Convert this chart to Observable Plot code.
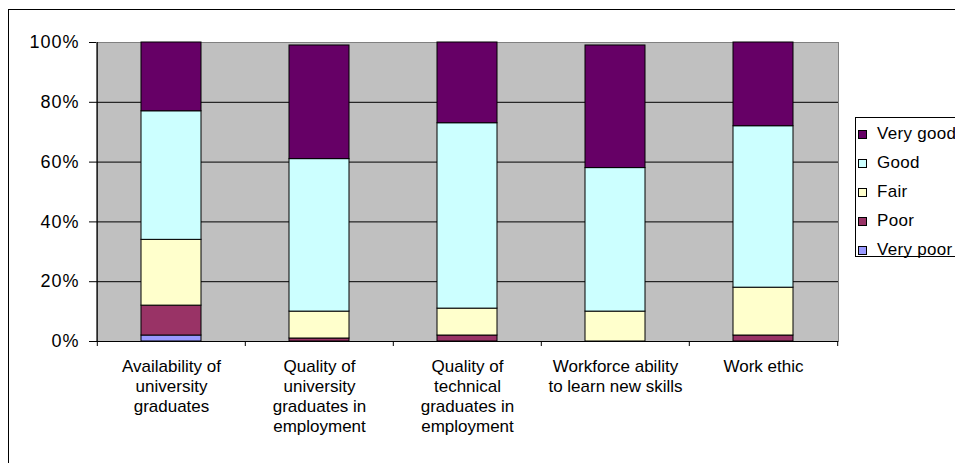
<!DOCTYPE html>
<html>
<head>
<meta charset="utf-8">
<script src="https://cdn.jsdelivr.net/npm/d3@7"></script>
<script src="https://cdn.jsdelivr.net/npm/@observablehq/plot@0.6"></script>
<style>
  body { margin: 0; background: #fff; font-family: "Liberation Sans", Arial, sans-serif; }
  #wrap { position: relative; width: 955px; height: 463px; overflow: hidden; background: #fff; }
  #border { position: absolute; left: 8px; top: 9px; width: 1200px; height: 1200px; border: 1px solid #000; box-sizing: border-box; pointer-events: none; }
  #legend { position: absolute; left: 855px; top: 117px; width: 200px; height: 140px; border: 1px solid #000; box-sizing: border-box; background: #fff; }
  .item { position: absolute; left: 0; height: 20px; font-size: 17px; line-height: 20px; white-space: nowrap; color: #000; letter-spacing: 0.3px; }
  .sw { position: absolute; left: 2px; top: 6px; width: 7px; height: 7px; border: 1px solid #000; }
  .lbl { position: absolute; left: 21px; top: 0; }
</style>
</head>
<body>
<div id="wrap"><div id="chart"></div><div id="legend"></div><div id="border"></div></div>
<script>
const categories = [
  "Availability of\nuniversity\ngraduates",
  "Quality of\nuniversity\ngraduates in\nemployment",
  "Quality of\ntechnical\ngraduates in\nemployment",
  "Workforce ability\nto learn new skills",
  "Work ethic"
];
const seriesNames = ["Very poor", "Poor", "Fair", "Good", "Very good"];
const veryPoor = [2, 0, 0, 0, 0];
const poor     = [10, 1, 2, 0, 2];
const fair     = [22, 9, 9, 10, 16];
const good     = [43, 51, 62, 48, 54];
const veryGood = [23, 38, 27, 41, 28];
const seriesColors = ["#9999FF", "#993366", "#FFFFCC", "#CCFFFF", "#660066"];
const yTicks = [0, 20, 40, 60, 80, 100];
const gridTicks = [20, 40, 60, 80];

const seriesValues = [veryPoor, poor, fair, good, veryGood];
const rows = seriesNames.flatMap((s, si) =>
  categories.map((c, ci) => ({category: c, series: s, value: seriesValues[si][ci]}))
).filter(d => d.value > 0);

const W = 955, H = 463, ML = 96, MR = 117, MT = 42, MB = 122;
const half = (W - ML - MR) / categories.length / 2;
const last = categories[categories.length - 1];

const chart = Plot.plot({
  width: W, height: H,
  marginLeft: ML, marginRight: MR, marginTop: MT, marginBottom: MB,
  style: {fontFamily: "'Liberation Sans', Arial, sans-serif", fontSize: "17px", color: "#000", background: "transparent"},
  x: {domain: categories, paddingInner: 0.595, paddingOuter: 0.2975, label: null},
  y: {domain: [0, 100], label: null},
  color: {domain: seriesNames, range: seriesColors},
  marks: [
    Plot.frame({fill: "#c0c0c0", stroke: "#808080"}),
    Plot.ruleY(gridTicks, {stroke: "#000"}),
    Plot.barY(rows, {x: "category", y: "value", fill: "series", stroke: "#000", strokeWidth: 1}),
    Plot.ruleY([0], {stroke: "#000"}),
    Plot.ruleX(categories, {x: d => d, y1: 0, y2: 0, dx: -half, insetBottom: -5, stroke: "#000"}),
    Plot.ruleX([last], {x: d => d, y1: 0, y2: 0, dx: half, insetBottom: -5, stroke: "#000"}),
    Plot.ruleX([categories[0]], {x: d => d, y1: 0, y2: 100, dx: -half, stroke: "#000"}),
    Plot.axisY({ticks: yTicks, tickSize: 7, tickPadding: 10, fontSize: 18, tickFormat: d => d + "%", label: null}),
    Plot.axisX({tickSize: 0, tickPadding: 16, lineHeight: 1.18, label: null})
  ]
});
d3.select(chart).selectAll('g[aria-label="y-axis tick label"] text').style("letter-spacing", "1px");
document.getElementById("chart").appendChild(chart);

const legend = document.getElementById("legend");
const legendOrder = seriesNames.map((s, i) => i).reverse();
legendOrder.forEach((si, k) => {
  const it = document.createElement("div");
  it.className = "item";
  it.style.top = (6 + k * 29) + "px";
  const sw = document.createElement("div");
  sw.className = "sw";
  sw.style.background = seriesColors[si];
  const lb = document.createElement("div");
  lb.className = "lbl";
  lb.textContent = seriesNames[si];
  it.appendChild(sw); it.appendChild(lb);
  legend.appendChild(it);
});
</script>
</body>
</html>
